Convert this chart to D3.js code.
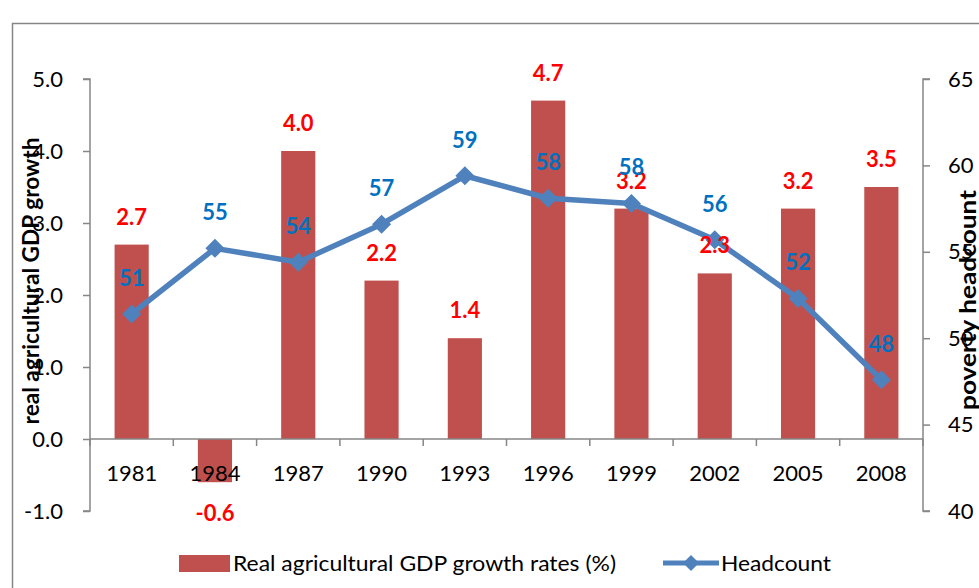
<!DOCTYPE html>
<html>
<head>
<meta charset="utf-8">
<script src="https://cdn.jsdelivr.net/npm/d3@7"></script>
<style>
  html, body { margin: 0; padding: 0; background: #fff; }
  svg { display: block; font-family: Lato, "Open Sans", sans-serif; }
</style>
</head>
<body>
<svg id="chart" width="979" height="588"></svg>
<script>
// Survey years on the category axis
const years = ["1981", "1984", "1987", "1990", "1993", "1996", "1999", "2002", "2005", "2008"];
// Real agricultural GDP growth rates (%)
const gdpGrowth = [2.7, -0.6, 4.0, 2.2, 1.4, 4.7, 3.2, 2.3, 3.2, 3.5];
// Poverty headcount (%)
const headcount = [51.4, 55.2, 54.4, 56.6, 59.4, 58.1, 57.8, 55.7, 52.3, 47.6];
// Axis ticks
const leftTicks = [-1, 0, 1, 2, 3, 4, 5];
const rightTicks = [40, 45, 50, 55, 60, 65];

const svg = d3.select("#chart");
const plotLeft = 90, plotRight = 923, plotTop = 79, plotBottom = 511;

// number formats with a plain hyphen as the minus sign
const locale = d3.formatLocale({ decimal: ".", thousands: ",", grouping: [3], currency: ["", ""], minus: "-" });
const fmt1 = locale.format(".1f");
const fmt0 = locale.format(".0f");

const x = d3.scaleBand().domain(years).range([plotLeft, plotRight]).paddingInner(0.59).paddingOuter(0.295);
const xStep = d3.scaleBand().domain(years).range([plotLeft, plotRight]);
const yL = d3.scaleLinear().domain([-1, 5]).range([plotBottom, plotTop]);
const yR = d3.scaleLinear().domain([40, 65]).range([plotBottom, plotTop]);

const gray = "#868686";
const barColor = "#C0504D";
const lineColor = "#4F81BD";

// outer frame
svg.append("rect")
  .attr("x", 12.5).attr("y", 23.5)
  .attr("width", 1000).attr("height", 600)
  .attr("fill", "none").attr("stroke", gray).attr("stroke-width", 1.5);

// bars
svg.append("g").selectAll("rect")
  .data(gdpGrowth)
  .join("rect")
  .attr("x", (d, i) => x(years[i]))
  .attr("width", x.bandwidth())
  .attr("y", d => yL(Math.max(0, d)))
  .attr("height", d => Math.abs(yL(d) - yL(0)))
  .attr("fill", barColor);

// left axis
const axL = svg.append("g").attr("transform", `translate(${plotLeft},0)`)
  .call(d3.axisLeft(yL).tickValues(leftTicks).tickFormat(fmt1).tickSize(7).tickPadding(20));
// right axis
const axR = svg.append("g").attr("transform", `translate(${plotRight},0)`)
  .call(d3.axisRight(yR).tickValues(rightTicks).tickSize(7).tickPadding(18));
[axL, axR].forEach(g => {
  g.select(".domain").attr("stroke", gray).attr("stroke-width", 1.5);
  g.selectAll(".tick line").attr("stroke", gray).attr("stroke-width", 1.5);
  g.selectAll(".tick text").attr("fill", "#000").style("font-size", "22px").style("font-family", "Lato, sans-serif");
});
axR.select(".domain").attr("d", `M7,${plotBottom}H0V${plotTop}H7`);
axL.select(".domain").attr("d", `M-7,${plotBottom}H0V${plotTop}H-7`);

// category axis at zero
const axX = svg.append("g").attr("transform", `translate(0,${yL(0)})`);
axX.append("line").attr("x1", plotLeft).attr("x2", plotRight).attr("stroke", gray).attr("stroke-width", 1.5);
axX.selectAll("line.t")
  .data(years.concat(["end"]))
  .join("line").attr("class", "t")
  .attr("x1", (d, i) => plotLeft + i * xStep.step())
  .attr("x2", (d, i) => plotLeft + i * xStep.step())
  .attr("y1", 0).attr("y2", 7)
  .attr("stroke", gray).attr("stroke-width", 1.5);
axX.selectAll("text")
  .data(years)
  .join("text")
  .attr("x", d => x(d) + x.bandwidth() / 2)
  .attr("y", 42)
  .attr("text-anchor", "middle")
  .style("font-size", "22px")
  .text(d => d);

// headcount line and markers
const cx = i => x(years[i]) + x.bandwidth() / 2;
svg.append("path")
  .datum(headcount)
  .attr("d", d3.line().x((d, i) => cx(i)).y(d => yR(d)))
  .attr("fill", "none").attr("stroke", lineColor).attr("stroke-width", 5.5).attr("stroke-linejoin", "round");
svg.append("g").selectAll("path")
  .data(headcount)
  .join("path")
  .attr("transform", (d, i) => `translate(${cx(i)},${yR(d)})`)
  .attr("d", "M0,-9.5L9.5,0L0,9.5L-9.5,0Z")
  .attr("fill", lineColor);

// bar value labels
svg.append("g").selectAll("text")
  .data(gdpGrowth)
  .join("text")
  .attr("x", (d, i) => cx(i))
  .attr("y", d => d >= 0 ? yL(d) - 20 : yL(d) + 39)
  .attr("text-anchor", "middle")
  .attr("fill", "#FF0000")
  .style("font-size", "22px").style("font-weight", "bold")
  .text(d => fmt1(d));

// headcount value labels
svg.append("g").selectAll("text")
  .data(headcount)
  .join("text")
  .attr("x", (d, i) => cx(i))
  .attr("y", d => yR(d) - 28)
  .attr("text-anchor", "middle")
  .attr("fill", "#0070C0")
  .style("font-size", "22px").style("font-weight", "bold")
  .text(d => fmt0(d));

// axis titles
svg.append("text")
  .attr("transform", "translate(39,281) rotate(-90)")
  .attr("text-anchor", "middle")
  .attr("textLength", 287).attr("lengthAdjust", "spacingAndGlyphs")
  .style("font-size", "22px").style("font-weight", "bold")
  .text("real agricultural GDP growth");
svg.append("text")
  .attr("transform", "translate(976,300) rotate(-90)")
  .attr("text-anchor", "middle")
  .attr("textLength", 220).attr("lengthAdjust", "spacingAndGlyphs")
  .style("font-size", "22px").style("font-weight", "bold")
  .text("poverty headcount");

// legend
const lg = svg.append("g");
lg.append("rect").attr("x", 179).attr("y", 555).attr("width", 51).attr("height", 17).attr("fill", barColor);
lg.append("text").attr("x", 233).attr("y", 571).style("font-size", "22px")
  .attr("textLength", 383).attr("lengthAdjust", "spacingAndGlyphs")
  .text("Real agricultural GDP growth rates (%)");
lg.append("line").attr("x1", 663).attr("x2", 719).attr("y1", 563).attr("y2", 563)
  .attr("stroke", lineColor).attr("stroke-width", 5);
lg.append("path").attr("transform", "translate(691,563)").attr("d", "M0,-8L8,0L0,8L-8,0Z").attr("fill", lineColor);
lg.append("text").attr("x", 721).attr("y", 571).style("font-size", "22px")
  .attr("textLength", 110).attr("lengthAdjust", "spacingAndGlyphs")
  .text("Headcount");
</script>
</body>
</html>
